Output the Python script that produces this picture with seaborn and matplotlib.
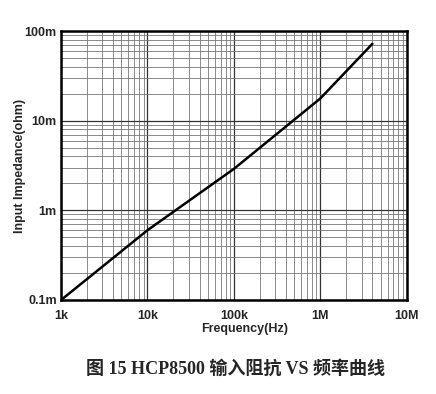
import numpy as np
import pandas as pd
import seaborn as sns
import matplotlib.pyplot as plt
from matplotlib.ticker import LogLocator, FixedLocator, NullFormatter

# datos
freq_hz = [1e3, 1e4, 1e5, 1e6, 4e6]
impedance_ohm = [1e-4, 6e-4, 2.9e-3, 1.77e-2, 7.2e-2]

x_ticks = [1e3, 1e4, 1e5, 1e6, 1e7]
x_labels = ["1k", "10k", "100k", "1M", "10M"]
y_ticks = [1e-4, 1e-3, 1e-2, 1e-1]
y_labels = ["0.1m", "1m", "10m", "100m"]

df = pd.DataFrame({"freq": freq_hz, "imp": impedance_ohm})

sns.set_style("white")
plt.rcParams["font.family"] = ["Liberation Sans", "DejaVu Sans"]

fig = plt.figure(figsize=(4.36, 3.94), dpi=100)
ax = fig.add_axes([0.140, 0.2386, 0.793, 0.6827])

ax.set_xscale("log")
ax.set_yscale("log")
sns.lineplot(data=df, x="freq", y="imp", ax=ax, color="black", linewidth=1.8)

ax.set_xlim(1e3, 1e7)
ax.set_ylim(1e-4, 1e-1)

ax.xaxis.set_major_locator(FixedLocator(x_ticks))
ax.yaxis.set_major_locator(FixedLocator(y_ticks))
ax.xaxis.set_minor_locator(LogLocator(base=10, subs=np.arange(2, 10)))
ax.yaxis.set_minor_locator(LogLocator(base=10, subs=np.arange(2, 10)))
ax.xaxis.set_minor_formatter(NullFormatter())
ax.yaxis.set_minor_formatter(NullFormatter())
ax.set_xticklabels(x_labels, fontsize=9, fontweight="bold")
ax.set_yticklabels(y_labels, fontsize=9, fontweight="bold")
ax.tick_params(which="both", length=0)
ax.tick_params(axis="x", pad=7)
ax.tick_params(axis="y", pad=3)

ax.grid(which="major", color="#333333", linewidth=0.9)
ax.grid(which="minor", color="#777777", linewidth=0.6)

for s in ax.spines.values():
    s.set_linewidth(1.8)
    s.set_color("black")

ax.set_xlabel("Frequency(Hz)", fontsize=9, fontweight="bold")
ax.xaxis.set_label_coords(0.532, -0.085)
ax.set_ylabel("Input Impedance(ohm)", fontsize=9, fontweight="bold")
ax.yaxis.set_label_coords(-0.10, 0.5)

fig.text(0.54, 0.065, "图 15 HCP8500 输入阻抗 VS 频率曲线", ha="center", va="center",
         fontsize=13, fontweight="bold",
         family=["Liberation Serif", "Noto Sans CJK SC"])

fig.savefig("out.png", dpi=100)
